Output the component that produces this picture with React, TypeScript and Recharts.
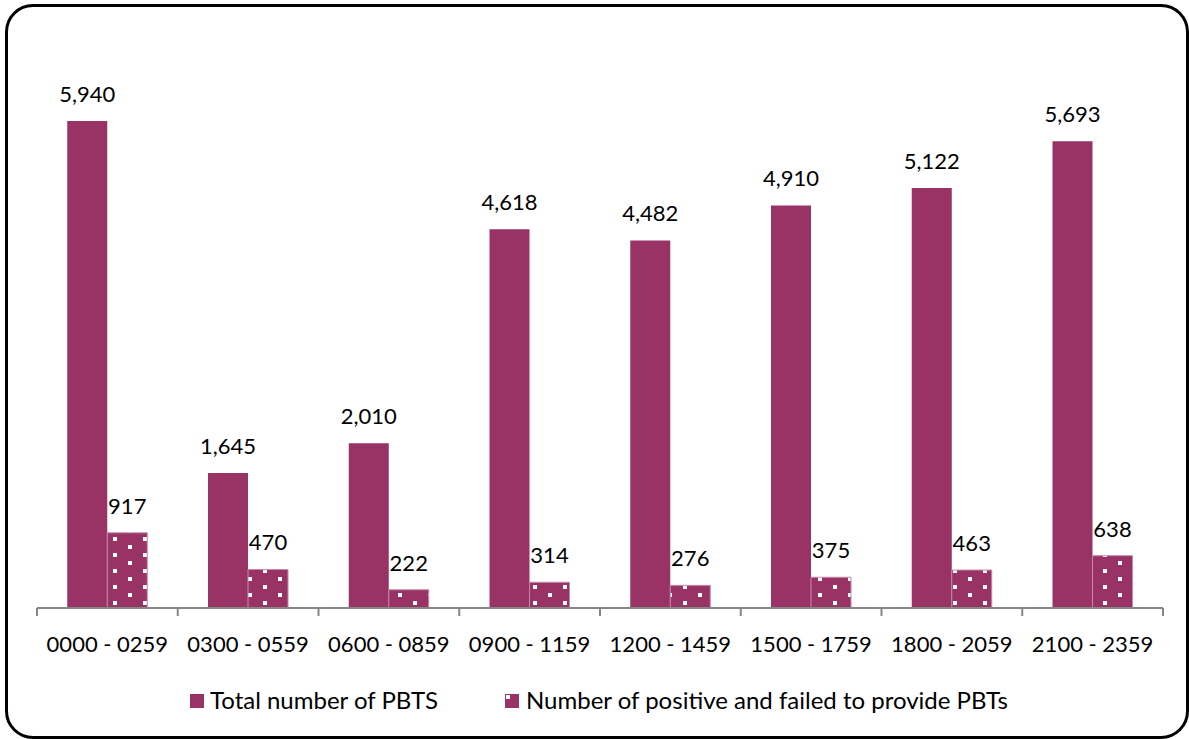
import React from "react";
import { BarChart, Bar, XAxis, YAxis, LabelList, Legend } from "recharts";

const categories = [
  "0000 - 0259",
  "0300 - 0559",
  "0600 - 0859",
  "0900 - 1159",
  "1200 - 1459",
  "1500 - 1759",
  "1800 - 2059",
  "2100 - 2359",
];
const totalPBTS = [5940, 1645, 2010, 4618, 4482, 4910, 5122, 5693];
const positiveFailed = [917, 470, 222, 314, 276, 375, 463, 638];
const seriesNames = ["Total number of PBTS", "Number of positive and failed to provide PBTs"];

const data = categories.map((c, i) => ({ name: c, total: totalPBTS[i], pos: positiveFailed[i] }));

const COLOR = "#993366";
const FONT = "Lato, 'Open Sans', sans-serif";
const fmt = (v: any) => Number(v).toLocaleString("en-US");

const AxisTick = (props: any) => {
  const { x, y, payload, index } = props;
  const half = payload && payload.offset ? payload.offset : 70.375;
  const n = categories.length;
  return (
    <g>
      <line x1={x - half} x2={x - half} y1={y} y2={y + 8} stroke="#868686" strokeWidth={2} />
      {index === n - 1 && (
        <line x1={x + half} x2={x + half} y1={y} y2={y + 8} stroke="#868686" strokeWidth={2} />
      )}
      <text x={x} y={y + 44} textAnchor="middle" fontFamily={FONT} fontSize={22} fill="#000">
        {payload.value}
      </text>
    </g>
  );
};

const LegendContent = () => (
  <svg width={1189} height={40} style={{ display: "block" }}>
    <rect x={190} y={15} width={14} height={14} fill={COLOR} />
    <text x={210} y={29.5} fontFamily={FONT} fontSize={24} fill="#000">
      {seriesNames[0]}
    </text>
    <rect x={505} y={15} width={14} height={14} fill={COLOR} />
    <rect x={506} y={16} width={4} height={4} fill="#fff" />
    <text x={526} y={29.5} fontFamily={FONT} fontSize={24} fill="#000">
      {seriesNames[1]}
    </text>
  </svg>
);

export default function App() {
  return (
    <div style={{ position: "absolute", left: 0, top: 0, width: 1189, height: 739, background: "#fff" }}>
      <div
        style={{
          position: "absolute",
          left: 5,
          top: 4,
          width: 1184,
          height: 735,
          boxSizing: "border-box",
          border: "3px solid #000",
          borderRadius: 28,
        }}
      />
      <div style={{ position: "absolute", left: 0, top: 0 }}>
        <BarChart
          width={1189}
          height={739}
          data={data}
          margin={{ top: 34, right: 26, left: 37, bottom: 20 }}
          barCategoryGap="21.5%"
          barGap={0}
        >
          <defs>
            <pattern id="dotsPattern" width={30} height={16} patternUnits="userSpaceOnUse">
              <rect x={0} y={0} width={30} height={16} fill={COLOR} />
              <rect x={23} y={9} width={4} height={4} fill="#fff" />
              <rect x={8} y={1} width={4} height={4} fill="#fff" />
            </pattern>
          </defs>
          <XAxis
            dataKey="name"
            axisLine={{ stroke: "#868686", strokeWidth: 2 }}
            tickLine={false}
            tickSize={0}
            tickMargin={0}
            height={71}
            interval={0}
            tick={<AxisTick />}
          />
          <YAxis hide domain={[0, 7000]} />
          <Legend verticalAlign="bottom" height={40} content={<LegendContent />} wrapperStyle={{ left: 0, width: 1189 }} />
          <Bar dataKey="total" name={seriesNames[0]} fill={COLOR} isAnimationActive={false}>
            <LabelList dataKey="total" position="top" offset={19} formatter={fmt} fontFamily={FONT} fontSize={22} fill="#000" />
          </Bar>
          <Bar dataKey="pos" name={seriesNames[1]} fill="url(#dotsPattern)" stroke="#c48aa5" strokeWidth={1} isAnimationActive={false}>
            <LabelList dataKey="pos" position="top" offset={19} formatter={fmt} fontFamily={FONT} fontSize={22} fill="#000" />
          </Bar>
        </BarChart>
      </div>
    </div>
  );
}
